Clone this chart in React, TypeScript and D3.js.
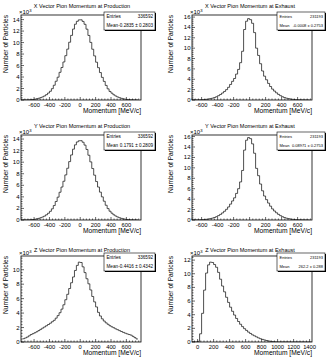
import * as d3 from "d3";

// counts are in units of 10^3 particles, 25 MeV/c bins
const binWidth = 25;
const symBinStart = -750;
const pzExhBinStart = -75;

const pxProdCounts = [
  0.004, 0.008, 0.016, 0.03, 0.056, 0.09, 0.14, 0.21, 0.3, 0.41, 0.54, 0.71, 0.93, 1.21, 1.52,
  1.97, 2.57, 3.27, 3.97, 4.82, 5.66, 6.62, 7.72, 8.86, 10.06, 11.25, 12.35, 13.2, 13.7, 13.95,
  13.96, 13.68, 13.18, 12.33, 11.24, 10.03, 8.84, 7.68, 6.58, 5.63, 4.78, 3.94, 3.24, 2.54, 1.94,
  1.49, 1.19, 0.91, 0.7, 0.53, 0.4, 0.29, 0.2, 0.14, 0.09, 0.054, 0.03, 0.015, 0.008, 0.004,
];
const pxExhCounts = [
  0.002, 0.004, 0.008, 0.015, 0.025, 0.04, 0.06, 0.09, 0.13, 0.19, 0.26, 0.35, 0.47, 0.63, 0.83,
  1.07, 1.35, 1.65, 2.0, 2.45, 3.0, 3.6, 4.15, 5.0, 5.9, 7.2, 9.4, 13.6, 15.2, 15.7,
  15.5, 14.8, 13.0, 10.0, 8.6, 7.0, 5.6, 4.6, 3.9, 3.2, 2.6, 2.1, 1.72, 1.38, 1.08,
  0.83, 0.63, 0.47, 0.35, 0.26, 0.19, 0.13, 0.09, 0.06, 0.04, 0.025, 0.015, 0.008, 0.004, 0.002,
];
const pyProdCounts = [
  0.003, 0.007, 0.014, 0.027, 0.05, 0.085, 0.13, 0.2, 0.28, 0.39, 0.52, 0.68, 0.9, 1.17, 1.5,
  1.93, 2.5, 3.2, 3.95, 4.8, 5.7, 6.7, 7.8, 8.95, 10.1, 11.25, 12.25, 13.0, 13.5, 13.7,
  13.72, 13.45, 12.95, 12.2, 11.2, 10.05, 8.9, 7.75, 6.65, 5.7, 4.82, 4.0, 3.25, 2.55, 1.97,
  1.52, 1.18, 0.9, 0.69, 0.52, 0.39, 0.28, 0.2, 0.13, 0.085, 0.05, 0.027, 0.014, 0.007, 0.003,
];
const pyExhCounts = [
  0.002, 0.004, 0.008, 0.015, 0.026, 0.042, 0.062, 0.092, 0.13, 0.19, 0.26, 0.36, 0.48, 0.64, 0.84,
  1.08, 1.36, 1.68, 2.05, 2.5, 3.05, 3.65, 4.25, 5.1, 6.0, 7.3, 9.5, 13.4, 15.3, 15.8,
  15.6, 14.6, 12.8, 9.9, 8.5, 6.9, 5.6, 4.6, 3.9, 3.25, 2.65, 2.12, 1.72, 1.38, 1.08,
  0.83, 0.63, 0.47, 0.35, 0.26, 0.19, 0.13, 0.09, 0.06, 0.04, 0.025, 0.015, 0.008, 0.004, 0.002,
];
const pzProdCounts = [
  0.45, 0.55, 0.68, 0.85, 1.03, 1.15, 1.28, 1.42, 1.58, 1.75, 1.92, 2.08, 2.25, 2.42, 2.6,
  2.8, 3.0, 3.3, 3.65, 4.05, 4.55, 5.15, 5.85, 6.6, 7.4, 8.2, 9.0, 9.9, 10.6, 11.05,
  11.0, 10.4, 9.6, 8.75, 8.05, 7.2, 6.3, 5.55, 4.85, 4.1, 3.6, 3.2, 2.9, 2.65, 2.45,
  2.25, 2.1, 1.97, 1.82, 1.7, 1.57, 1.45, 1.33, 1.22, 1.12, 1.03, 0.95, 0.78, 0.6, 0.42,
];
const pzExhCounts = [
  0, 0, 0,
  0.1, 1.2, 4.2, 7.6, 10.1, 11.3, 11.7, 11.65, 11.35, 10.95, 10.2, 9.2, 8.2, 7.35, 6.55,
  5.8, 5.1, 4.5, 3.95, 3.45, 3.0, 2.6, 2.25, 1.95, 1.7, 1.45, 1.25, 1.05, 0.9, 0.75,
  0.6, 0.48, 0.38, 0.3, 0.22, 0.15, 0.1, 0.06, 0.03, 0.01,
  0, 0, 0, 0, 0, 0, 0, 0, 0, 0, 0, 0, 0, 0, 0, 0, 0,
];

const titles = [
  "X Vector Pion Momentum at Production",
  "X Vector Pion Momentum at Exhaust",
  "Y Vector Pion Momentum at Production",
  "Y Vector Pion Momentum at Exhaust",
  "Z Vector Pion Momentum at Production",
  "Z Vector Pion Momentum at Exhaust",
];
const entries = ["336592", "231193", "336592", "231193", "336592", "231193"];
const means = [
  "-0.2835 ± 0.2803",
  "-0.0008 ± 0.2753",
  "0.1791 ± 0.2809",
  "0.08971 ± 0.2753",
  "-0.4416 ± 0.4342",
  "262.2 ± 0.288",
];
const symTicks = [-600, -400, -200, 0, 200, 400, 600];
const zExhTicks = [0, 200, 400, 600, 800, 1000, 1200, 1400];
const yTopTicks = [14, 16, 14, 16, 10, 12];

const FONT = "'Liberation Sans', Arial, Helvetica, sans-serif";
const colLeft = [21, 192];
const colRight = [141, 312];
const rowTop = [15, 135, 256];
const rowBottom = [100, 220, 342];
const titleY = [8, 128, 252];
const titleX = [82, 250];
const yLabelX = [7.5, 172.5];
const statX = [104, 277];
const statW = [51, 48];
const statFont = [4.6, 4.0];

const panels = [
  { counts: pxProdCounts, start: symBinStart, xDomain: [-770, 790], yMax: 14.8, xTicks: symTicks, col: 0, row: 0 },
  { counts: pxExhCounts, start: symBinStart, xDomain: [-720, 780], yMax: 16.4, xTicks: symTicks, col: 1, row: 0 },
  { counts: pyProdCounts, start: symBinStart, xDomain: [-770, 790], yMax: 14.7, xTicks: symTicks, col: 0, row: 1 },
  { counts: pyExhCounts, start: symBinStart, xDomain: [-720, 780], yMax: 16.3, xTicks: symTicks, col: 1, row: 1 },
  { counts: pzProdCounts, start: symBinStart, xDomain: [-770, 790], yMax: 11.9, xTicks: symTicks, col: 0, row: 2 },
  { counts: pzExhCounts, start: pzExhBinStart, xDomain: [-70, 1430], yMax: 12.6, xTicks: zExhTicks, col: 1, row: 2 },
].map((p, i) => ({ ...p, title: titles[i], entries: entries[i], mean: means[i], yTop: yTopTicks[i] }));

type P = (typeof panels)[number];

function Panel({ p, idx }: { p: P; idx: number }) {
  const L = colLeft[p.col];
  const R = colRight[p.col];
  const T = rowTop[p.row];
  const B = rowBottom[p.row];
  const x = d3.scaleLinear(p.xDomain, [L, R]);
  const y = d3.scaleLinear([0, p.yMax], [B, T]);

  const pts: [number, number][] = p.counts.map((c, i) => [p.start + i * binWidth, c]);
  pts.push([p.start + p.counts.length * binWidth, p.counts[p.counts.length - 1]]);
  const line = d3
    .line<[number, number]>()
    .x((d) => x(d[0]))
    .y((d) => y(d[1]))
    .curve(d3.curveStepAfter);

  const xMinor = d3
    .range(Math.ceil(p.xDomain[0] / 40) * 40, p.xDomain[1], 40)
    .filter((v) => v % 200 !== 0);
  const yMajor = d3.range(0, p.yTop + 0.01, 2);
  const yMinor = d3.range(0, p.yMax, 0.4).filter((v) => Math.abs(v / 2 - Math.round(v / 2)) > 0.01);

  const sx = statX[p.col];
  const sw = statW[p.col];
  const sf = statFont[p.col];
  const sy = T - 3;
  const sh = 18;

  return (
    <g fontFamily={FONT} fill="#000">
      <text x={titleX[p.col]} y={titleY[p.row]} fontSize={5.5} textAnchor="middle">
        {p.title}
      </text>
      <text x={L - 2} y={T - 1} fontSize={6}>
        ×10
        <tspan fontSize={4.2} dy={-2.2}>
          3
        </tspan>
      </text>
      <clipPath id={`clip${idx}`}>
        <rect x={L} y={T} width={R - L} height={B - T} />
      </clipPath>
      <path
        d={line(pts) as string}
        fill="none"
        stroke="#222"
        strokeWidth={0.8}
        clipPath={`url(#clip${idx})`}
      />
      <rect x={L} y={T} width={R - L} height={B - T} fill="none" stroke="#000" strokeWidth={0.8} />
      <g stroke="#000" strokeWidth={0.6}>
        {p.xTicks.map((v) => (
          <line key={`xM${v}`} x1={x(v)} x2={x(v)} y1={B} y2={B - 3} />
        ))}
        {xMinor.map((v) => (
          <line key={`xm${v}`} x1={x(v)} x2={x(v)} y1={B} y2={B - 1.5} />
        ))}
        {yMajor.map((v) => (
          <line key={`yM${v}`} x1={L} x2={L + 3} y1={y(v)} y2={y(v)} />
        ))}
        {yMinor.map((v) => (
          <line key={`ym${v}`} x1={L} x2={L + 1.5} y1={y(v)} y2={y(v)} />
        ))}
      </g>
      {p.xTicks.map((v) => (
        <text key={`xl${v}`} x={x(v)} y={B + 6.5} fontSize={5.8} textAnchor="middle">
          {v}
        </text>
      ))}
      {yMajor.map((v) => (
        <text key={`yl${v}`} x={L - 1.5} y={y(v) + 2} fontSize={6} textAnchor="end">
          {v}
        </text>
      ))}
      <text x={R} y={B + 13} fontSize={6.7} textAnchor="end">
        Momentum [MeV/c]
      </text>
      <text
        transform={`translate(${yLabelX[p.col]},${T}) rotate(-90)`}
        fontSize={6.6}
        textAnchor="end"
      >
        Number of Particles
      </text>
      <rect x={sx + 1} y={sy + 1} width={sw} height={sh} fill="#000" />
      <rect x={sx} y={sy} width={sw} height={sh} fill="#fff" stroke="#000" strokeWidth={0.6} />
      <text x={sx + 2.5} y={sy + 6.3} fontSize={sf}>
        Entries
      </text>
      <text x={sx + sw - 2} y={sy + 6.3} fontSize={sf} textAnchor="end">
        {p.entries}
      </text>
      <text x={sx + 2.5} y={sy + 15} fontSize={sf}>
        Mean
      </text>
      <text x={sx + sw - 2} y={sy + 15} fontSize={sf} textAnchor="end">
        {p.mean}
      </text>
    </g>
  );
}

export default function App() {
  return (
    <svg
      width={326}
      height={360}
      style={{ position: "absolute", left: 0, top: 0, background: "#fff" }}
    >
      <rect width={326} height={360} fill="#fff" />
      {panels.map((p, i) => (
        <Panel key={i} p={p} idx={i} />
      ))}
    </svg>
  );
}
